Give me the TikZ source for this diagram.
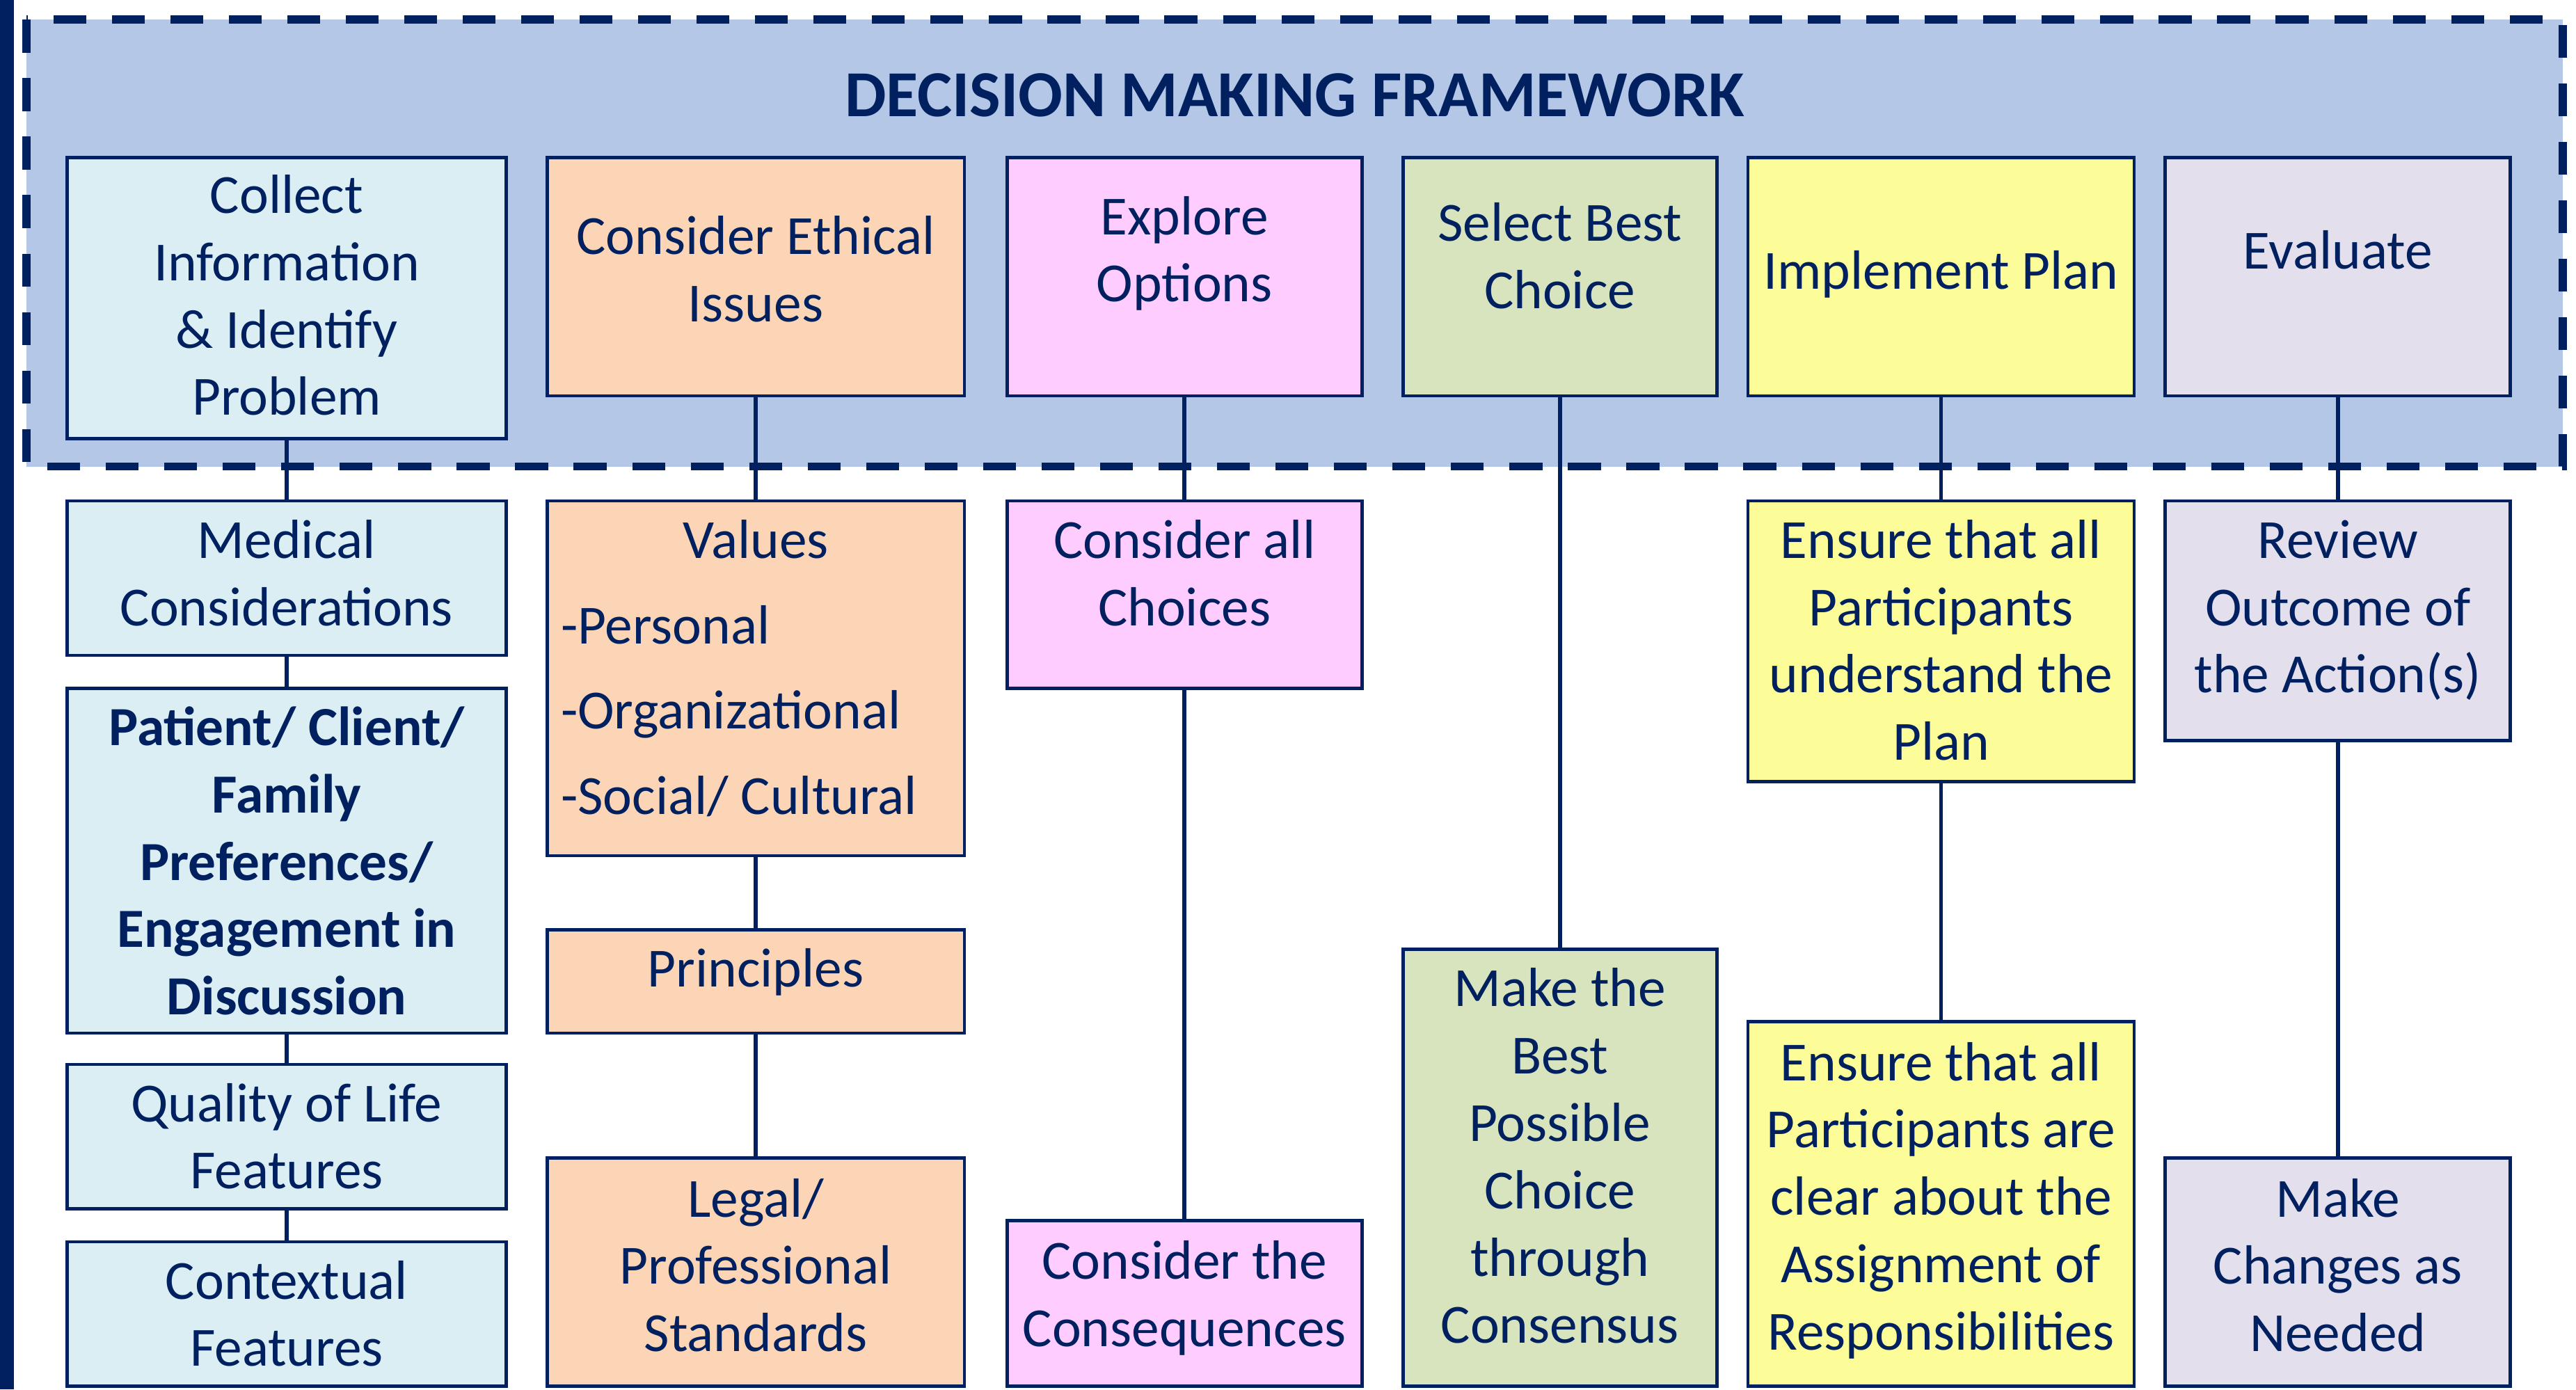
\documentclass[tikz,border=0pt]{standalone}
\usepackage{fontspec}
\setmainfont{Carlito}
\usetikzlibrary{positioning, calc}

\definecolor{navy}{RGB}{0,32,96}
\definecolor{framefill}{RGB}{180,199,231}
\definecolor{infofill}{RGB}{218,238,243}
\definecolor{ethicfill}{RGB}{251,213,181}
\definecolor{optionfill}{RGB}{255,204,255}
\definecolor{choicefill}{RGB}{215,228,189}
\definecolor{planfill}{RGB}{252,252,153}
\definecolor{evalfill}{RGB}{228,223,236}

\begin{document}
\begin{tikzpicture}[
    x = 0.5pt, y = -0.5pt, % layout grid, y runs downwards
    box/.style={draw=navy, line width=1pt, anchor=north, inner sep=0pt},
    infobox/.style={box, fill=infofill, minimum width=133.5pt},
    ethicbox/.style={box, fill=ethicfill, minimum width=127pt},
    optionbox/.style={box, fill=optionfill, minimum width=108pt},
    choicebox/.style={box, fill=choicefill, minimum width=95.5pt},
    planbox/.style={box, fill=planfill, minimum width=117.5pt},
    evalbox/.style={box, fill=evalfill, minimum width=105pt},
    % base = baseline of the last line of a text
    txt/.style={text=navy, align=center, inner sep=0pt, anchor=base,
        font=\fontsize{16.8}{20.5}\selectfont},
    link/.style={draw=navy, line width=1.2pt},
    frame/.style={fill=framefill, draw=navy, line width=2.5pt, dash pattern=on 10pt off 7.8pt},
    title/.style={text=navy, inner sep=0pt, font=\fontsize{20}{24}\selectfont\bfseries}
]
\useasboundingbox (0,0) rectangle (1568,846);

% --- FRAME AND TITLE ---
\fill[navy] (0,0) rectangle (8.5,846);
\draw[frame] (16,12) rectangle (1560,284);
\node[title] (heading) at (788,58) {DECISION MAKING FRAMEWORK};

% --- TOP ROW: the six steps ---
\node[infobox, minimum height=85.5pt] (collect) at (174.5,95) {};
\node[ethicbox, minimum height=72.5pt] (ethical) at (460,95) {};
\node[optionbox, minimum height=72.5pt] (explore) at (721,95) {};
\node[choicebox, minimum height=72.5pt] (select) at (949.5,95) {};
\node[planbox, minimum height=72.5pt] (implement) at (1181.5,95) {};
\node[evalbox, minimum height=72.5pt] (evaluate) at (1423,95) {};

\node[txt] (collect-txt) at ([yshift=-78.9pt]collect.north) {Collect\\Information\\\& Identify\\Problem};
\node[txt] (ethical-txt) at ([yshift=-50.4pt]ethical.north) {Consider Ethical\\Issues};
\node[txt] (explore-txt) at ([yshift=-44.4pt]explore.north) {Explore\\Options};
\node[txt] (select-txt) at ([yshift=-46.4pt]select.north) {Select Best\\Choice};
\node[txt] (implement-txt) at ([yshift=-40.4pt]implement.north) {Implement Plan};
\node[txt] (evaluate-txt) at ([yshift=-34.4pt]evaluate.north) {Evaluate};

% --- COLUMN 1: information ---
\node[infobox, minimum height=47pt] (medical) at (174.5,304) {};
\node[infobox, minimum height=105pt] (patient) at (174.5,418) {};
\node[infobox, minimum height=44pt] (quality) at (174.5,647) {};
\node[infobox, minimum height=44pt] (context) at (174.5,755) {};

\node[txt] (medical-txt) at ([yshift=-38.4pt]medical.north) {Medical\\Considerations};
\node[txt, font=\fontsize{16.8}{20.5}\selectfont\bfseries] (patient-txt) at ([yshift=-99.9pt]patient.north)
    {Patient/ Client/\\Family\\Preferences/\\Engagement in\\Discussion};
\node[txt] (quality-txt) at ([yshift=-38.4pt]quality.north) {Quality of Life\\Features};
\node[txt] (context-txt) at ([yshift=-38.4pt]context.north) {Contextual\\Features};

% --- COLUMN 2: ethics ---
\node[ethicbox, minimum height=108pt] (values) at (460,304) {};
\node[ethicbox, minimum height=31.5pt] (principles) at (460,565) {};
\node[ethicbox, minimum height=69.5pt] (legal) at (460,704) {};

\node[txt] (values-txt) at ([yshift=-17.9pt]values.north) {Values};
\node[txt, anchor=base west, align=left, font=\fontsize{16.8}{26}\selectfont] (values-list)
    at ([xshift=4.5pt, yshift=-95.9pt]values.north west) {-Personal\\-Organizational\\-Social/ Cultural};
\node[txt] (principles-txt) at ([yshift=-17.9pt]principles.north) {Principles};
\node[txt] (legal-txt) at ([yshift=-59.4pt]legal.north) {Legal/\\Professional\\Standards};

% --- COLUMN 3: options ---
\node[optionbox, minimum height=57pt] (choices) at (721,304) {};
\node[optionbox, minimum height=50.5pt] (conseq) at (721,742) {};

\node[txt] (choices-txt) at ([yshift=-38.4pt]choices.north) {Consider all\\Choices};
\node[txt] (conseq-txt) at ([yshift=-38.9pt]conseq.north) {Consider the\\Consequences};

% --- COLUMN 4: choice ---
\node[choicebox, minimum height=133pt] (bestchoice) at (949.5,577) {};

\node[txt] (bestchoice-txt) at ([yshift=-120.4pt]bestchoice.north) {Make the\\Best\\Possible\\Choice\\through\\Consensus};

% --- COLUMN 5: plan ---
\node[planbox, minimum height=85.5pt] (understand) at (1181.5,304) {};
\node[planbox, minimum height=111pt] (clear) at (1181.5,621) {};

\node[txt] (understand-txt) at ([yshift=-79.4pt]understand.north) {Ensure that all\\Participants\\understand the\\Plan};
\node[txt] (clear-txt) at ([yshift=-100.4pt]clear.north) {Ensure that all\\Participants are\\clear about the\\Assignment of\\Responsibilities};

% --- COLUMN 6: evaluation ---
\node[evalbox, minimum height=73pt] (review) at (1423,304) {};
\node[evalbox, minimum height=69.5pt] (changes) at (1423,704) {};

\node[txt] (review-txt) at ([yshift=-58.9pt]review.north) {Review\\Outcome of\\the Action(s)};
\node[txt] (changes-txt) at ([yshift=-59.4pt]changes.north) {Make\\Changes as\\Needed};

% --- CONNECTORS ---
\draw[link] (collect) -- (medical);
\draw[link] (medical) -- (patient);
\draw[link] (patient) -- (quality);
\draw[link] (quality) -- (context);

\draw[link] (ethical) -- (values);
\draw[link] (values) -- (principles);
\draw[link] (principles) -- (legal);

\draw[link] (explore) -- (choices);
\draw[link] (choices) -- (conseq);

\draw[link] (select) -- (bestchoice);

\draw[link] (implement) -- (understand);
\draw[link] (understand) -- (clear);

\draw[link] (evaluate) -- (review);
\draw[link] (review) -- (changes);

\end{tikzpicture}
\end{document}
